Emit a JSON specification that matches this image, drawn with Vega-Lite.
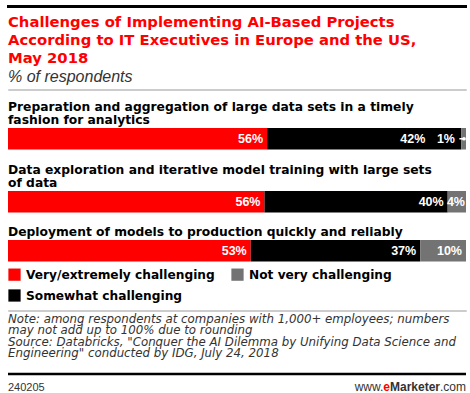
{
  "$schema": "https://vega.github.io/schema/vega-lite/v6.json",
  "background": "white",
  "padding": {"left": 6, "right": 6, "top": 5, "bottom": 0},
  "spacing": 0,
  "datasets": {
    "survey": [
      {"category": "Preparation and aggregation of large data sets in a timely fashion for analytics", "type": "Very/extremely challenging", "value": 56},
      {"category": "Preparation and aggregation of large data sets in a timely fashion for analytics", "type": "Somewhat challenging", "value": 42},
      {"category": "Preparation and aggregation of large data sets in a timely fashion for analytics", "type": "Not very challenging", "value": 1},
      {"category": "Data exploration and iterative model training with large sets of data", "type": "Very/extremely challenging", "value": 56},
      {"category": "Data exploration and iterative model training with large sets of data", "type": "Somewhat challenging", "value": 40},
      {"category": "Data exploration and iterative model training with large sets of data", "type": "Not very challenging", "value": 4},
      {"category": "Deployment of models to production quickly and reliably", "type": "Very/extremely challenging", "value": 53},
      {"category": "Deployment of models to production quickly and reliably", "type": "Somewhat challenging", "value": 37},
      {"category": "Deployment of models to production quickly and reliably", "type": "Not very challenging", "value": 10}
    ]
  },
  "resolve": {"scale": {"x": "independent", "y": "independent", "color": "independent"}, "legend": {"color": "independent"}},
  "vconcat": [
    {
      "width": 458, "height": 1,
      "view": {"stroke": "#000000", "strokeWidth": 2},
      "data": {"name": "survey"},
      "transform": [{"filter": {"field": "value", "equal": 1}}],
      "mark": {"type": "rule", "opacity": 0},
      "encoding": {
        "x": {"datum": 0, "type": "quantitative", "scale": {"domain": [0, 1]}, "axis": null},
        "x2": {"datum": 1},
        "y": {"datum": 0, "type": "quantitative", "scale": {"domain": [0, 1]}, "axis": null}
      }
    },
    {
      "width": 458, "height": 80,
      "data": {"name": "survey"},
      "transform": [{"filter": {"field": "value", "equal": 1}}],
      "title": {
        "text": ["Challenges of Implementing AI-Based Projects", "According to IT Executives in Europe and the US,", "May 2018"],
        "subtitle": "% of respondents",
        "orient": "top", "anchor": "start", "frame": "group",
        "font": "DejaVu Sans", "fontSize": 14.8, "fontWeight": "bold", "color": "#ff0000", "lineHeight": 18,
        "subtitleFont": "Liberation Sans", "subtitleFontStyle": "italic", "subtitleFontWeight": "normal", "subtitleFontSize": 16, "subtitleColor": "#333333", "subtitlePadding": 3.3,
        "offset": -77.4
      },
      "mark": {"type": "rule", "opacity": 0},
      "encoding": {
        "x": {"datum": 0, "type": "quantitative", "scale": {"domain": [0, 1]}, "axis": null},
        "x2": {"datum": 1},
        "y": {"datum": 0, "type": "quantitative", "scale": {"domain": [0, 1]}, "axis": null}
      }
    },
    {
      "width": 458, "height": 1,
      "view": {"stroke": "#cccccc", "strokeWidth": 1},
      "data": {"name": "survey"},
      "transform": [{"filter": {"field": "value", "equal": 1}}],
      "mark": {"type": "rule", "opacity": 0},
      "encoding": {
        "x": {"datum": 0, "type": "quantitative", "scale": {"domain": [0, 1]}, "axis": null},
        "x2": {"datum": 1},
        "y": {"datum": 0, "type": "quantitative", "scale": {"domain": [0, 1]}, "axis": null}
      }
    },
    {
      "width": 458, "height": 8.5,
      "data": {"name": "survey"},
      "transform": [{"filter": {"field": "value", "equal": 1}}],
      "mark": {"type": "rule", "opacity": 0},
      "encoding": {
        "x": {"datum": 0, "type": "quantitative", "scale": {"domain": [0, 1]}, "axis": null},
        "x2": {"datum": 1},
        "y": {"datum": 0, "type": "quantitative", "scale": {"domain": [0, 1]}, "axis": null}
      }
    },
    {
      "spacing": 13,
      "resolve": {"scale": {"x": "independent", "y": "independent", "color": "independent"}, "legend": {"color": "independent"}},
      "vconcat": [
        {
          "width": 458, "height": 21.5,
          "data": {"name": "survey"},
          "transform": [
            {"filter": {"field": "category", "equal": "Preparation and aggregation of large data sets in a timely fashion for analytics"}},
            {"calculate": "datum.value + '%'", "as": "label"}
          ],
          "title": {"text": ["Preparation and aggregation of large data sets in a timely", "fashion for analytics"]},
          "layer": [
            {
              "mark": {"type": "bar"},
              "encoding": {
                "x": {"field": "value", "type": "quantitative", "stack": "normalize", "axis": null},
                "y": {"field": "category", "type": "nominal", "axis": null, "scale": {"paddingInner": 0, "paddingOuter": 0}},
                "order": {"field": "type", "sort": "descending"},
                "color": {"field": "type", "type": "nominal", "scale": {"domain": ["Very/extremely challenging", "Not very challenging", "Somewhat challenging"], "range": ["#ff0000", "#737373", "#000000"]}, "legend": null}
              }
            },
            {
              "mark": {"type": "text", "align": "right", "baseline": "middle", "dx": -4, "font": "Liberation Sans", "fontWeight": "bold", "fontSize": 12.5, "color": "white"},
              "encoding": {
                "x": {"field": "value", "type": "quantitative", "stack": "normalize", "axis": null},
                "y": {"field": "category", "type": "nominal", "axis": null},
                "order": {"field": "type", "sort": "descending"},
                "detail": {"field": "type"},
                "text": {"condition": {"test": "datum.type == 'Very/extremely challenging'", "field": "label"}, "value": ""}
              }
            },
            {
              "mark": {"type": "text", "align": "right", "baseline": "middle", "dx": -36, "font": "Liberation Sans", "fontWeight": "bold", "fontSize": 12.5, "color": "white"},
              "encoding": {
                "x": {"field": "value", "type": "quantitative", "stack": "normalize", "axis": null},
                "y": {"field": "category", "type": "nominal", "axis": null},
                "order": {"field": "type", "sort": "descending"},
                "detail": {"field": "type"},
                "text": {"condition": {"test": "datum.type == 'Somewhat challenging'", "field": "label"}, "value": ""}
              }
            },
            {
              "mark": {"type": "text", "align": "right", "baseline": "middle", "dx": -11, "font": "Liberation Sans", "fontWeight": "bold", "fontSize": 12.5, "color": "white"},
              "encoding": {
                "x": {"field": "value", "type": "quantitative", "stack": "normalize", "axis": null},
                "y": {"field": "category", "type": "nominal", "axis": null},
                "order": {"field": "type", "sort": "descending"},
                "detail": {"field": "type"},
                "text": {"condition": {"test": "datum.type == 'Not very challenging'", "field": "label"}, "value": ""}
              }
            },
            {
              "mark": {"type": "bar", "height": 1.5, "color": "white", "xOffset": -2, "x2Offset": -7},
              "encoding": {
                "x": {"field": "value", "type": "quantitative", "stack": "normalize", "axis": null},
                "y": {"field": "category", "type": "nominal", "axis": null},
                "order": {"field": "type", "sort": "descending"},
                "detail": {"field": "type"},
                "opacity": {"condition": {"test": "datum.type == 'Not very challenging'", "value": 1}, "value": 0}
              }
            },
            {
              "mark": {"type": "circle", "size": 14, "color": "white", "xOffset": -2},
              "encoding": {
                "x": {"field": "value", "type": "quantitative", "stack": "normalize", "axis": null},
                "y": {"field": "category", "type": "nominal", "axis": null},
                "order": {"field": "type", "sort": "descending"},
                "detail": {"field": "type"},
                "opacity": {"condition": {"test": "datum.type == 'Not very challenging'", "value": 1}, "value": 0}
              }
            }
          ]
        },
        {
          "width": 458, "height": 21.5,
          "data": {"name": "survey"},
          "transform": [
            {"filter": {"field": "category", "equal": "Data exploration and iterative model training with large sets of data"}},
            {"calculate": "datum.value + '%'", "as": "label"}
          ],
          "title": {"text": ["Data exploration and iterative model training with large sets", "of data"]},
          "layer": [
            {
              "mark": {"type": "bar"},
              "encoding": {
                "x": {"field": "value", "type": "quantitative", "stack": "normalize", "axis": null},
                "y": {"field": "category", "type": "nominal", "axis": null, "scale": {"paddingInner": 0, "paddingOuter": 0}},
                "order": {"field": "type", "sort": "descending"},
                "color": {"field": "type", "type": "nominal", "scale": {"domain": ["Very/extremely challenging", "Not very challenging", "Somewhat challenging"], "range": ["#ff0000", "#737373", "#000000"]}, "legend": null}
              }
            },
            {
              "mark": {"type": "text", "align": "right", "baseline": "middle", "dx": -4, "font": "Liberation Sans", "fontWeight": "bold", "fontSize": 12.5, "color": "white"},
              "encoding": {
                "x": {"field": "value", "type": "quantitative", "stack": "normalize", "axis": null},
                "y": {"field": "category", "type": "nominal", "axis": null},
                "order": {"field": "type", "sort": "descending"},
                "detail": {"field": "type"},
                "text": {"condition": {"test": "datum.type != 'Not very challenging'", "field": "label"}, "value": ""}
              }
            },
            {
              "mark": {"type": "text", "align": "right", "baseline": "middle", "dx": -1, "font": "Liberation Sans", "fontWeight": "bold", "fontSize": 12.5, "color": "white"},
              "encoding": {
                "x": {"field": "value", "type": "quantitative", "stack": "normalize", "axis": null},
                "y": {"field": "category", "type": "nominal", "axis": null},
                "order": {"field": "type", "sort": "descending"},
                "detail": {"field": "type"},
                "text": {"condition": {"test": "datum.type == 'Not very challenging'", "field": "label"}, "value": ""}
              }
            }
          ]
        },
        {
          "width": 458, "height": 21.5,
          "data": {"name": "survey"},
          "transform": [
            {"filter": {"field": "category", "equal": "Deployment of models to production quickly and reliably"}},
            {"calculate": "datum.value + '%'", "as": "label"}
          ],
          "title": {"text": "Deployment of models to production quickly and reliably"},
          "layer": [
            {
              "mark": {"type": "bar"},
              "encoding": {
                "x": {"field": "value", "type": "quantitative", "stack": "normalize", "axis": null},
                "y": {"field": "category", "type": "nominal", "axis": null, "scale": {"paddingInner": 0, "paddingOuter": 0}},
                "order": {"field": "type", "sort": "descending"},
                "color": {
                  "field": "type", "type": "nominal",
                  "scale": {"domain": ["Very/extremely challenging", "Not very challenging", "Somewhat challenging"], "range": ["#ff0000", "#737373", "#000000"]},
                  "legend": {
                    "title": null, "orient": "bottom", "direction": "horizontal", "columns": 2,
                    "symbolType": "square", "symbolSize": 150, "symbolStrokeWidth": 0, "symbolOpacity": 1,
                    "labelFont": "DejaVu Sans", "labelFontWeight": "bold", "labelFontSize": 12.2, "labelColor": "#000000", "labelLimit": 400,
                    "labelOffset": 5, "columnPadding": 16, "rowPadding": 8, "offset": 5.5
                  }
                }
              }
            },
            {
              "mark": {"type": "text", "align": "right", "baseline": "middle", "dx": -4, "font": "Liberation Sans", "fontWeight": "bold", "fontSize": 12.5, "color": "white"},
              "encoding": {
                "x": {"field": "value", "type": "quantitative", "stack": "normalize", "axis": null},
                "y": {"field": "category", "type": "nominal", "axis": null},
                "order": {"field": "type", "sort": "descending"},
                "detail": {"field": "type"},
                "text": {"field": "label"}
              }
            }
          ]
        }
      ]
    },
    {
      "width": 458, "height": 7,
      "data": {"name": "survey"},
      "transform": [{"filter": {"field": "value", "equal": 1}}],
      "mark": {"type": "rule", "opacity": 0},
      "encoding": {
        "x": {"datum": 0, "type": "quantitative", "scale": {"domain": [0, 1]}, "axis": null},
        "x2": {"datum": 1},
        "y": {"datum": 0, "type": "quantitative", "scale": {"domain": [0, 1]}, "axis": null}
      }
    },
    {
      "width": 458, "height": 1,
      "view": {"stroke": "#cccccc", "strokeWidth": 1},
      "data": {"name": "survey"},
      "transform": [{"filter": {"field": "value", "equal": 1}}],
      "title": {
        "text": ["Note: among respondents at companies with 1,000+ employees; numbers", "may not add up to 100% due to rounding", "Source: Databricks, \"Conquer the AI Dilemma by Unifying Data Science and", "Engineering\" conducted by IDG, July 24, 2018"],
        "orient": "bottom", "anchor": "start", "frame": "group",
        "font": "DejaVu Sans", "fontStyle": "italic", "fontWeight": "normal", "fontSize": 11.8, "lineHeight": 11.6, "color": "#333333",
        "offset": 2.5
      },
      "mark": {"type": "rule", "opacity": 0},
      "encoding": {
        "x": {"datum": 0, "type": "quantitative", "scale": {"domain": [0, 1]}, "axis": null},
        "x2": {"datum": 1},
        "y": {"datum": 0, "type": "quantitative", "scale": {"domain": [0, 1]}, "axis": null}
      }
    },
    {
      "width": 458, "height": 13,
      "data": {"values": [{}]},
      "mark": {"type": "rule", "color": "#000000", "strokeWidth": 2.5},
      "encoding": {
        "x": {"datum": 0, "type": "quantitative", "scale": {"domain": [0, 1]}, "axis": null},
        "x2": {"datum": 1},
        "y": {"datum": 0, "type": "quantitative", "scale": {"domain": [0, 1]}, "axis": null}
      }
    },
    {
      "width": 458, "height": 14.5,
      "data": {"values": [{}]},
      "encoding": {
        "y": {"datum": 0, "type": "quantitative", "scale": {"domain": [0, 1]}, "axis": null}
      },
      "layer": [
        {
          "mark": {"type": "text", "align": "left", "baseline": "alphabetic", "font": "Liberation Sans", "fontSize": 11, "color": "#333333", "text": "240205"},
          "encoding": {"x": {"datum": 0, "type": "quantitative", "scale": {"domain": [0, 1]}, "axis": null}}
        },
        {
          "mark": {"type": "text", "align": "right", "baseline": "alphabetic", "font": "Liberation Sans", "fontSize": 12, "color": "#333333", "text": ".com"},
          "encoding": {"x": {"datum": 1, "type": "quantitative", "scale": {"domain": [0, 1]}, "axis": null}}
        },
        {
          "mark": {"type": "text", "align": "right", "baseline": "alphabetic", "dx": -26, "font": "Liberation Sans", "fontWeight": "bold", "fontSize": 12, "color": "#333333", "text": "Marketer"},
          "encoding": {"x": {"datum": 1, "type": "quantitative", "scale": {"domain": [0, 1]}, "axis": null}}
        },
        {
          "mark": {"type": "text", "align": "right", "baseline": "alphabetic", "dx": -76, "font": "Liberation Sans", "fontWeight": "bold", "fontSize": 12, "color": "#ff0000", "text": "e"},
          "encoding": {"x": {"datum": 1, "type": "quantitative", "scale": {"domain": [0, 1]}, "axis": null}}
        },
        {
          "mark": {"type": "text", "align": "right", "baseline": "alphabetic", "dx": -82.7, "font": "Liberation Sans", "fontSize": 12, "color": "#333333", "text": "www."},
          "encoding": {"x": {"datum": 1, "type": "quantitative", "scale": {"domain": [0, 1]}, "axis": null}}
        }
      ]
    }
  ],
  "config": {
    "view": {"stroke": null},
    "title": {"anchor": "start", "frame": "group", "font": "DejaVu Sans", "fontSize": 12.3, "fontWeight": "bold", "color": "#000000", "lineHeight": 13.5, "offset": 1.5}
  }
}
